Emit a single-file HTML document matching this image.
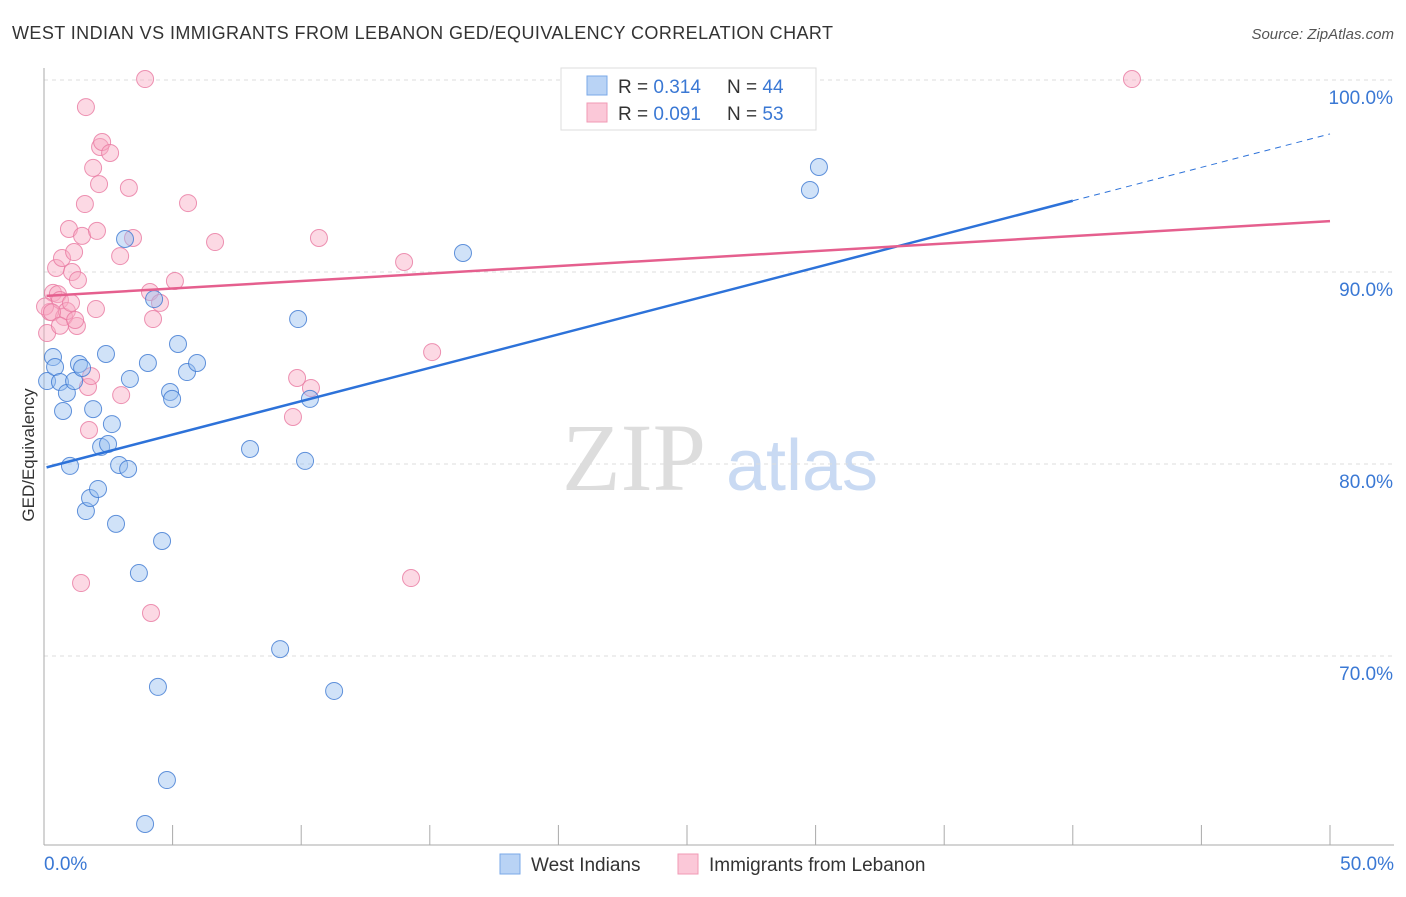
<!DOCTYPE html>
<html><head><meta charset="utf-8"><style>
body{margin:0;background:#fff;font-family:"Liberation Sans",sans-serif;}
svg text{font-family:"Liberation Sans",sans-serif;}
</style></head><body>
<svg id="chart" width="1406" height="892" viewBox="0 0 1406 892">
<text x="12" y="39" font-size="18" fill="#333" textLength="821">WEST INDIAN VS IMMIGRANTS FROM LEBANON GED/EQUIVALENCY CORRELATION CHART</text>
<text x="1394" y="39" font-size="15" fill="#555" font-style="italic" text-anchor="end">Source: ZipAtlas.com</text>
<text x="634" y="490" font-size="96" fill="#ddd" text-anchor="middle" style="font-family:'Liberation Serif',serif">ZIP</text>
<text x="802" y="490" font-size="72" fill="#c9daf3" text-anchor="middle">atlas</text>
<text transform="translate(34,455) rotate(-90)" font-size="17" fill="#333" text-anchor="middle">GED/Equivalency</text>
<g id="grid"></g><g id="axes"></g><g id="pts"></g><g id="lines"></g>
<g>
<rect x="561" y="68" width="255" height="62" fill="#fff" stroke="#ddd"/>
<rect x="587" y="76" width="20" height="19" fill="#b9d3f5" stroke="#7aa8e8"/>
<rect x="587" y="103" width="20" height="19" fill="#fbc8d8" stroke="#f09ab5"/>
<text x="618" y="93" font-size="19" fill="#333">R = <tspan fill="#3a78d4">0.314</tspan></text>
<text x="727" y="93" font-size="19" fill="#333">N = <tspan fill="#3a78d4">44</tspan></text>
<text x="618" y="120" font-size="19" fill="#333">R = <tspan fill="#3a78d4">0.091</tspan></text>
<text x="727" y="120" font-size="19" fill="#333">N = <tspan fill="#3a78d4">53</tspan></text>
</g>
<g>
<rect x="500" y="854" width="20" height="20" fill="#b9d3f5" stroke="#7aa8e8"/>
<text x="531" y="871" font-size="19" fill="#333">West Indians</text>
<text x="709" y="871" font-size="19" fill="#333">Immigrants from Lebanon</text>
<rect x="678" y="854" width="20" height="20" fill="#fbc8d8" stroke="#f09ab5"/>
</g>
</svg>
<script>
const yTicks=[70,80,90,100];
const yTickLabels=["70.0%","80.0%","90.0%","100.0%"];
const xTickCount=10;
const blueX=[0.12,0.35,0.43,0.62,0.74,0.89,1.01,1.17,1.36,1.48,1.63,1.79,1.91,2.10,2.22,2.41,2.49,2.64,2.80,2.92,3.15,3.27,3.34,3.69,3.93,4.04,4.28,4.43,4.59,4.78,4.90,4.98,5.21,5.56,5.95,8.01,9.18,9.88,10.15,10.34,11.28,16.29,29.78,30.13];
const blueY=[84.32,85.57,85.05,84.27,82.76,83.70,79.90,84.32,85.21,85.00,77.55,78.23,82.86,78.70,80.89,85.73,81.04,82.08,76.88,79.95,91.72,79.74,84.43,74.32,61.25,85.26,88.59,68.39,75.99,63.54,83.75,83.39,86.25,84.79,85.26,80.78,70.36,87.55,80.16,83.39,68.18,90.99,94.27,95.47];
const pinkX=[0.12,0.23,0.35,0.47,0.54,0.62,0.70,0.78,0.89,0.97,1.05,1.09,1.17,1.28,1.32,1.44,1.48,1.59,1.63,1.71,1.75,1.83,1.91,2.02,2.06,2.14,2.18,2.26,2.57,2.96,3.00,3.30,3.46,3.93,4.12,4.16,4.24,4.51,5.09,5.60,6.65,9.68,9.84,10.38,10.69,14.00,14.27,15.09,42.30,0.04,0.31,0.62,1.21];
const pinkY=[86.82,87.92,88.91,90.21,88.85,88.54,90.73,87.66,87.97,92.24,88.39,90.00,91.04,87.19,89.58,73.80,91.88,93.54,98.59,84.01,81.77,84.58,95.42,88.07,92.14,94.58,96.51,96.77,96.20,90.83,83.59,94.38,91.77,100.05,88.96,72.24,87.55,88.39,89.53,93.59,91.56,82.45,84.48,83.96,91.77,90.52,74.06,85.83,100.05,88.2,87.9,87.2,87.5];
const blueTrend=[79.79,0.348];
const pinkTrend=[88.75,0.078];
const NS="http://www.w3.org/2000/svg";
const X=v=>44+v/50*1286;
const Y=v=>80+(100-v)*19.2;
function mk(tag,attrs,parent){const e=document.createElementNS(NS,tag);for(const k in attrs)e.setAttribute(k,attrs[k]);document.getElementById(parent).appendChild(e);return e;}
yTicks.forEach((t,i)=>{
 const l=mk('line',{x1:44,x2:1394,y1:Y(t),y2:Y(t),stroke:'#ddd','stroke-dasharray':'4,4'},'grid');
 
 
 const tx=mk('text',{x:1393,y:Y(t)+24,'font-size':19,fill:'#3a78d4','text-anchor':'end'},'axes');
 tx.textContent=yTickLabels[i];
 
 
});
const ya=mk('line',{x1:44,x2:44,y1:68,y2:845,stroke:'#aaa'},'axes');


const xa=mk('line',{x1:44,x2:1394,y1:845,y2:845,stroke:'#aaa'},'axes');


for(let i=0;i<=xTickCount;i++){
 const t=mk('line',{x1:X(i*5),x2:X(i*5),y1:825,y2:845,stroke:'#aaa'},'axes');
 
 
}
const x0=mk('text',{x:44,y:870,'font-size':19,fill:'#3a78d4'},'axes');x0.textContent='0.0%';


const x1=mk('text',{x:1394,y:870,'font-size':19,fill:'#3a78d4','text-anchor':'end'},'axes');x1.textContent='50.0%';


pinkX.forEach((v,i)=>{const c=mk('circle',{cx:X(v),cy:Y(pinkY[i]),r:8.5,fill:'rgba(248,170,195,0.45)',stroke:'rgba(232,120,160,0.8)','stroke-width':1},'pts');
 
 });
blueX.forEach((v,i)=>{const c=mk('circle',{cx:X(v),cy:Y(blueY[i]),r:8.5,fill:'rgba(150,190,240,0.45)',stroke:'rgba(60,120,210,0.8)','stroke-width':1},'pts');
 
 });
const bl=mk('line',{x1:X(0.1),y1:Y(blueTrend[0]+blueTrend[1]*0.1),x2:X(40),y2:Y(blueTrend[0]+blueTrend[1]*40),stroke:'#2d72d9','stroke-width':2.5},'lines');


const bd=mk('line',{x1:X(40),y1:Y(blueTrend[0]+blueTrend[1]*40),x2:X(50),y2:Y(blueTrend[0]+blueTrend[1]*50),stroke:'#2d72d9','stroke-width':1,'stroke-dasharray':'6,5'},'lines');


const pl=mk('line',{x1:X(0.1),y1:Y(pinkTrend[0]+pinkTrend[1]*0.1),x2:X(50),y2:Y(pinkTrend[0]+pinkTrend[1]*50),stroke:'#e55f8e','stroke-width':2.5},'lines');


</script>
</body></html>
